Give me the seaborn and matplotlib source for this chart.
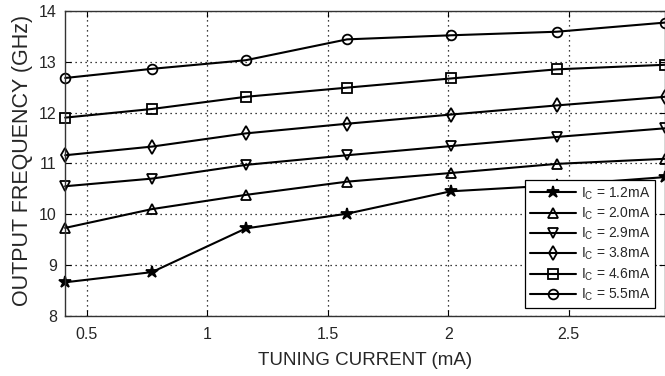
import pandas as pd
import matplotlib
matplotlib.use("Agg")
import matplotlib.pyplot as plt
import seaborn as sns

# tuning current (mA) on x, output frequency (GHz) per collector current
tuning = [0.41, 0.77, 1.16, 1.58, 2.01, 2.45, 2.90]
f_12 = [8.66, 8.86, 9.72, 10.01, 10.45, 10.57, 10.73]
f_20 = [9.73, 10.10, 10.38, 10.64, 10.81, 10.99, 11.09]
f_29 = [10.55, 10.70, 10.97, 11.16, 11.34, 11.52, 11.69]
f_38 = [11.16, 11.33, 11.59, 11.78, 11.96, 12.14, 12.31]
f_46 = [11.90, 12.07, 12.31, 12.49, 12.67, 12.85, 12.94]
f_55 = [12.68, 12.86, 13.03, 13.44, 13.52, 13.59, 13.77]
labels = ["1.2", "2.0", "2.9", "3.8", "4.6", "5.5"]

def main():
    sns.set_style("ticks")
    plt.rcParams["font.family"] = ["Liberation Sans", "DejaVu Sans"]
    plt.rcParams["mathtext.default"] = "regular"

    series = [f_12, f_20, f_29, f_38, f_46, f_55]
    markers = ["*", "^", "v", "d", "s", "o"]

    rows = []
    for lab, vals in zip(labels, series):
        for x, y in zip(tuning, vals):
            rows.append({"tuning": x, "freq": y, "ic": lab})
    df = pd.DataFrame(rows)

    fig = plt.figure(figsize=(6.65, 3.76), dpi=100)
    ax = fig.add_axes([0.098, 0.16, 0.902, 0.811])

    for lab, mk in zip(labels, markers):
        sub = df[df["ic"] == lab]
        sns.lineplot(x="tuning", y="freq", data=sub, ax=ax, color="black",
                     marker=mk, markersize=9 if mk == "*" else 7,
                     markerfacecolor="black" if mk == "*" else "none",
                     markeredgecolor="black", markeredgewidth=1.3,
                     linewidth=1.5, label=r"I$_C$ = " + lab + "mA",
                     clip_on=False)

    ax.set_xlim(0.41, 2.9)
    ax.set_ylim(8, 14)
    ax.set_xticks([0.5, 1, 1.5, 2, 2.5])
    ax.set_xticklabels(["0.5", "1", "1.5", "2", "2.5"])
    ax.set_yticks([8, 9, 10, 11, 12, 13, 14])
    ax.grid(True, color="black", linestyle=(0, (1, 3)), linewidth=0.9)
    ax.tick_params(direction="in", labelsize=11.5, length=4, color="black",
                   top=True, right=True)
    ax.tick_params(axis="x", pad=8)
    ax.tick_params(axis="y", pad=6)
    for s in ax.spines.values():
        s.set_color("#333333")
        s.set_linewidth(1.0)

    ax.set_xlabel("TUNING CURRENT (mA)", fontsize=13.5, labelpad=7)
    ax.set_ylabel("OUTPUT FREQUENCY (GHz)", fontsize=15.5)
    ax.yaxis.set_label_coords(-0.053, 0.51)

    leg = ax.legend(loc="lower right", fontsize=10, fancybox=False,
                    edgecolor="black", framealpha=1, handlelength=3.3,
                    handletextpad=0.35, labelspacing=0.28, borderpad=0.35,
                    borderaxespad=0, bbox_to_anchor=(0.983, 0.026))
    leg.get_frame().set_linewidth(0.9)

    fig.savefig("out.png", dpi=100)

if __name__ == "__main__":
    main()
